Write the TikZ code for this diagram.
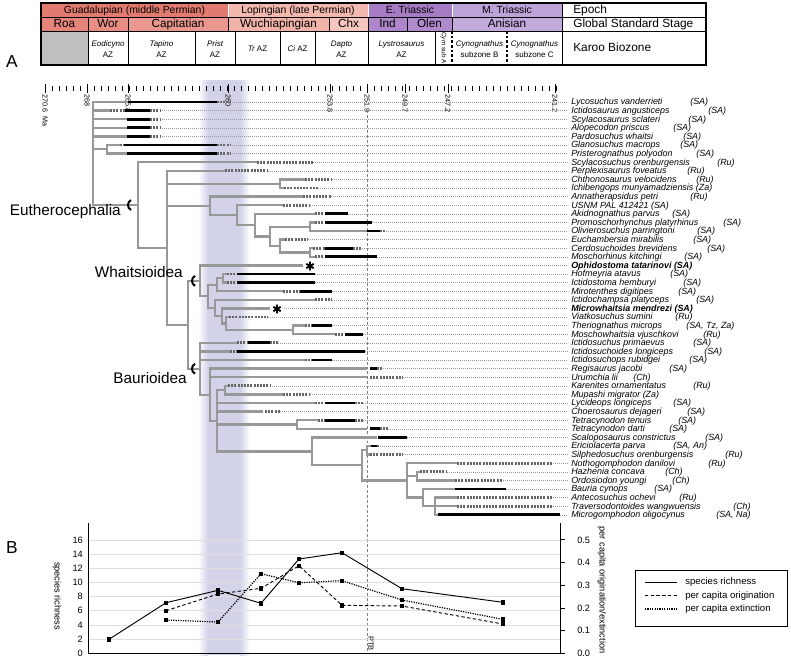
\documentclass[tikz,border=0pt]{standalone}
\usepackage{fontspec}
\setmainfont{Liberation Sans}
\definecolor{guad}{RGB}{225,123,112}
\definecolor{roa}{RGB}{229,133,122}
\definecolor{wor}{RGB}{232,142,132}
\definecolor{capit}{RGB}{234,152,143}
\definecolor{loping}{RGB}{243,185,175}
\definecolor{wuchia}{RGB}{241,178,168}
\definecolor{chx}{RGB}{245,198,190}
\definecolor{etri}{RGB}{165,124,196}
\definecolor{ind}{RGB}{173,134,202}
\definecolor{olen}{RGB}{176,138,204}
\definecolor{mtri}{RGB}{188,163,216}
\definecolor{anis}{RGB}{194,171,220}
\definecolor{band}{RGB}{210,210,233}
\definecolor{tree}{RGB}{152,152,152}
\newcommand\RY[1]{102+8.6*(#1-1)}
\newcommand\Gs[3]{\draw[treeline] (#2,{\RY{#1}}) -- (#3,{\RY{#1}});}
\newcommand\Us[3]{\draw[unc] (#2,{\RY{#1}}) -- (#3,{\RY{#1}});}
\newcommand\Ks[3]{\draw[blk] (#2,{\RY{#1}}) -- (#3,{\RY{#1}});}
\newcommand\Ds[2]{\draw[dotl] (#2,{\RY{#1}}) -- (568,{\RY{#1}});}
\newcommand\Vn[3]{\draw[treeline,line cap=rect] (#1,#2) -- (#1,#3);}
\newcommand\Hn[3]{\draw[treeline] (#2,#1) -- (#3,#1);}
\newcommand\Tx[4]{\node[taxon] (tn#1) at (571,{\RY{#1}+2.8}) {#2};\node[taxon] (ta#1) at (#4,{\RY{#1}+2.8}) {#3};}
\newcommand\Tone[2]{\node[taxon] (tn#1) at (571,{\RY{#1}+2.8}) {#2};}
\newcommand\Ast[3]{\draw[line width=1.4pt] (#2,#3-4.3) -- (#2,#3+4.3) (#2-3.7,#3-2.15) -- (#2+3.7,#3+2.15) (#2-3.7,#3+2.15) -- (#2+3.7,#3-2.15);}
\newcommand\Paren[2]{\draw[line width=1.5pt] (#1+2,#2-5) .. controls (#1-2,#2-3) and (#1-2,#2+3) .. (#1+2,#2+5);}
\begin{document}
\begin{tikzpicture}[x=0.75pt,y=-0.75pt,
  treeline/.style={line width=1.7pt,draw=tree},
  blk/.style={line width=2.1pt,draw=black},
  unc/.style={line width=2pt,draw=black!60,dash pattern=on 1.5pt off 0.9pt},
  dotl/.style={line width=0.45pt,draw=black!40,dash pattern=on 0.6pt off 0.9pt},
  hdra/.style={font=\fontsize{7.8}{9}\selectfont,anchor=base,inner sep=0},
  hdrb/.style={font=\fontsize{8.8}{10}\selectfont,anchor=base,inner sep=0},
  bz/.style={font=\fontsize{6}{7}\selectfont,anchor=base,inner sep=0},
  lbl/.style={font=\fontsize{8.9}{10}\selectfont,anchor=base west,inner sep=0},
  ticklab/.style={font=\fontsize{5.4}{6}\selectfont,rotate=-90,anchor=west,inner sep=0},
  taxon/.style={font=\fontsize{6.7}{7}\selectfont\itshape,anchor=base west,inner sep=0},
  clade/.style={font=\fontsize{11.5}{12}\selectfont,anchor=east,inner sep=0},
  axl/.style={font=\fontsize{6.9}{8}\selectfont,inner sep=0},
  panel/.style={font=\fontsize{13}{14}\selectfont,inner sep=0}]
\useasboundingbox (0,0) rectangle (791,658);

% ---- Lavender band
\shade[left color=white,right color=band] (198,80) rectangle (208,655);
\fill[band] (208,80) rectangle (240,655);
\shade[left color=band,right color=white] (240,80) rectangle (250,655);

% ---- Header fills
\fill[guad] (41,3) rectangle (228,17);
\fill[loping] (228,3) rectangle (368,17);
\fill[etri] (368,3) rectangle (452,17);
\fill[mtri] (452,3) rectangle (562,17);
\fill[roa] (41,17) rectangle (88,31);
\fill[wor] (88,17) rectangle (128,31);
\fill[capit] (128,17) rectangle (228,31);
\fill[wuchia] (228,17) rectangle (329,31);
\fill[chx] (329,17) rectangle (368,31);
\fill[ind] (368,17) rectangle (407,31);
\fill[olen] (407,17) rectangle (452,31);
\fill[anis] (452,17) rectangle (562,31);
\fill[black!25] (41,31) rectangle (88,65);
% header lines
\draw[white,line width=0.6pt] (228,3) -- (228,17) (368,3) -- (368,17) (452,3) -- (452,17);
\draw[black,line width=0.6pt] (88,17) -- (88,65) (128,17) -- (128,65) (228,17) -- (228,31)
  (329,17) -- (329,31) (368,17) -- (368,65) (407,17) -- (407,31) (452,17) -- (452,31)
  (195,31) -- (195,65) (235,31) -- (235,65) (280,31) -- (280,65) (315,31) -- (315,65)
  (435,31) -- (435,65);
\draw[black,line width=1pt,dash pattern=on 2pt off 1.5pt] (452,31) -- (452,65) (507,31) -- (507,65);
\draw[black,line width=0.7pt] (41,17) -- (706,17) (41,31) -- (706,31) (562,3) -- (562,65);
\draw[black,line width=0.9pt] (41,3) rectangle (706,65);

% header text
\node[hdra] (ep1) at (134.5,13.5) {Guadalupian (middle Permian)};
\node[hdra] (ep2) at (298,13.5) {Lopingian (late Permian)};
\node[hdra] (ep3) at (410,13.5) {E. Triassic};
\node[hdra] (ep4) at (507,13.5) {M. Triassic};
\node[lbl] (epl) at (573,13.5) {Epoch};
\node[hdrb] (st1) at (64.5,27.5) {Roa};
\node[hdrb] (st2) at (108,27.5) {Wor};
\node[hdrb] (st3) at (178,27.5) {Capitatian};
\node[hdrb] (st4) at (278.5,27.5) {Wuchiapingian};
\node[hdrb] (st5) at (348.5,27.5) {Chx};
\node[hdrb] (st6) at (387.5,27.5) {Ind};
\node[hdrb] (st7) at (429.5,27.5) {Olen};
\node[hdrb] (st8) at (507,27.5) {Anisian};
\node[lbl] (stl) at (573,27.5) {Global Standard Stage};
\node[bz] (bz1a) at (108,46) {\itshape Eodicyno};
\node[bz] (bz1b) at (108,57) {AZ};
\node[bz] (bz2a) at (161.5,46) {\itshape Tapino};
\node[bz] (bz2b) at (161.5,57) {AZ};
\node[bz] (bz3a) at (215,46) {\itshape Prist};
\node[bz] (bz3b) at (215,57) {AZ};
\node[bz] (bz4) at (257.5,51) {\itshape Tr\upshape\ AZ};
\node[bz] (bz5) at (297.5,51) {\itshape Ci\upshape\ AZ};
\node[bz] (bz6a) at (341.5,46) {\itshape Dapto};
\node[bz] (bz6b) at (341.5,57) {AZ};
\node[bz] (bz7a) at (401.5,46) {\itshape Lystrosaurus};
\node[bz] (bz7b) at (401.5,57) {AZ};
\node[font=\fontsize{4.8}{5}\selectfont,rotate=-90,inner sep=0] (bz8) at (443.5,48) {\itshape Cym\upshape\ sub A};
\node[bz] (bz9a) at (479.5,46) {\itshape Cynognathus};
\node[bz] (bz9b) at (479.5,57) {subzone B};
\node[bz] (bz10a) at (534.5,46) {\itshape Cynognathus};
\node[bz] (bz10b) at (534.5,57) {subzone C};
\node[lbl] (bzl) at (573,51) {Karoo Biozone};

\node[panel] (pA) at (12,62) {A};
\node[panel] (pB) at (12,548) {B};

% ---- time ticks
\foreach \i in {0,...,73} \draw[line width=0.45pt] ({45+7*\i},86) -- ({45+7*\i},91);
\foreach \x in {45,87,128,228,330,367,405,448,555} \draw[line width=0.6pt] (\x,84) -- (\x,93);
\node[ticklab] (tk1) at (45,94) {270.6\hspace{3pt}Ma};
\foreach \x/\l [count=\c] in {87/268,128/265.8,228/260,330/253.8,367/251.9,405/249.7,448/247.2,555/241.2}
  \node[ticklab] (tkb\c) at (\x,94) {\l};

% ---- PTB line
\draw[black!50,line width=0.5pt,dash pattern=on 2.2pt off 1.5pt] (367,110) -- (367,653);

% ---- dotted leaders
\foreach \r/\x in {1/230,2/160,3/160,4/160,5/160,6/230,7/230,8/313,9/268,10/332,11/318,12/331,
  13/310,14/348,15/372,16/386,17/308,18/362,19/377,20/318,21/315,22/315,23/332,24/332,25/284,
  26/268,27/332,28/363,29/278,30/365,31/332,32/383,33/403,34/270,35/310,36/363,37/280,38/363,
  39/388,40/407,41/380,42/403,43/553,44/447,45/503,46/506,47/553,48/553,49/560}
  {\Ds{\r}{\x}}

% ---- tree
\Vn{93}{102}{205}
\Gs{1}{93}{128}\Ks{1}{128}{217}\Us{1}{217}{230}
\Gs{2}{93}{110}\Us{2}{110}{125}\Ks{2}{125}{150}\Us{2}{150}{160}
\Gs{3}{93}{127}\Ks{3}{127}{150}\Us{3}{150}{160}
\Gs{4}{93}{127}\Ks{4}{127}{150}\Us{4}{150}{160}
\Gs{5}{93}{127}\Ks{5}{127}{150}\Us{5}{150}{160}
\Hn{149.3}{93}{107}\Vn{107}{145}{153.6}
\Gs{6}{107}{120}\Us{6}{120}{124}\Ks{6}{124}{217}\Us{6}{217}{230}
\Gs{7}{107}{127}\Ks{7}{127}{217}\Us{7}{217}{230}
\Hn{205}{93}{138}\Vn{138}{162.2}{247.8}
\Gs{8}{138}{257}\Us{8}{257}{313}
\Hn{247.8}{138}{167}\Vn{167}{170.8}{324.8}
\Gs{9}{167}{225}\Us{9}{225}{268}
\Hn{183.7}{167}{280}\Vn{280}{179.4}{188}
\Gs{10}{280}{305}\Us{10}{305}{332}
\Gs{11}{280}{284}\Us{11}{284}{318}
\Hn{205.9}{167}{210}\Vn{210}{196.6}{215.15}
\Gs{12}{210}{303}\Us{12}{303}{331}
\Hn{215.15}{210}{237}\Vn{237}{205.2}{225.1}
\Gs{13}{237}{283}\Us{13}{283}{310}
\Hn{225.1}{237}{255}\Vn{255}{213.8}{236.4}
\Gs{14}{255}{315}\Us{14}{315}{325}\Ks{14}{325}{348}
\Hn{236.4}{255}{270}\Vn{270}{226.7}{246.05}
\Hn{226.7}{270}{310}\Vn{310}{222.4}{231}
\Gs{15}{310}{315}\Us{15}{315}{325}\Ks{15}{325}{372}
\Gs{16}{310}{367}\Ks{16}{367}{380}\Us{16}{380}{386}
\Hn{246.05}{270}{280}\Vn{280}{239.6}{252.5}
\Gs{17}{280}{285}\Us{17}{285}{308}
\Hn{252.5}{280}{310}\Vn{310}{248.2}{256.8}
\Gs{18}{310}{313}\Us{18}{313}{325}\Ks{18}{325}{353}\Us{18}{353}{362}
\Gs{19}{310}{315}\Us{19}{315}{325}\Ks{19}{325}{377}
\Hn{324.8}{167}{188}\Vn{188}{280.85}{368.75}
\Hn{280.85}{188}{200}\Vn{200}{265.4}{296.3}
\Gs{20}{200}{303}
\Hn{296.3}{200}{208}\Vn{208}{284.75}{307.85}
\Hn{284.75}{208}{217}\Vn{217}{278.3}{291.2}
\Hn{278.3}{217}{223}\Vn{223}{274}{282.6}
\Gs{21}{223}{227}\Us{21}{227}{237}\Ks{21}{237}{315}
\Gs{22}{223}{227}\Us{22}{227}{237}\Ks{22}{237}{315}
\Gs{23}{217}{283}\Us{23}{283}{300}\Ks{23}{300}{332}
\Hn{307.85}{208}{215}\Vn{215}{299.8}{315.9}
\Gs{24}{215}{315}\Us{24}{315}{332}
\Hn{315.9}{215}{222}\Vn{222}{308.4}{323.45}
\Gs{25}{222}{270}
\Hn{323.45}{222}{226}\Vn{226}{317}{329.9}
\Gs{26}{226}{229}\Us{26}{229}{268}
\Hn{329.9}{226}{293}\Vn{293}{325.6}{334.2}
\Gs{27}{293}{305}\Us{27}{305}{312}\Ks{27}{312}{332}
\Gs{28}{293}{335}\Us{28}{335}{345}\Ks{28}{345}{363}
\Hn{368.75}{188}{200}\Vn{200}{342.8}{394.7}
\Gs{29}{200}{237}\Us{29}{237}{248}\Ks{29}{248}{270}\Us{29}{270}{278}
\Gs{30}{200}{230}\Us{30}{230}{237}\Ks{30}{237}{365}
\Gs{31}{200}{305}\Us{31}{305}{312}\Ks{31}{312}{332}
\Hn{394.7}{200}{210}\Vn{210}{368.6}{420.75}
\Gs{32}{210}{367}\Ks{32}{370}{377}\Us{32}{377}{383}
\Gs{33}{210}{367}\Us{33}{370}{403}
\Hn{420.75}{210}{217}\Vn{217}{390.1}{451.4}
\Hn{390.1}{217}{225}\Vn{225}{385.8}{394.4}
\Gs{34}{225}{228}\Us{34}{228}{270}
\Gs{35}{225}{283}\Us{35}{283}{310}
\Gs{36}{217}{315}\Us{36}{315}{325}\Ks{36}{325}{355}\Us{36}{355}{363}
\Gs{37}{217}{263}\Us{37}{265}{280}
\Hn{424.5}{217}{297}\Vn{297}{420.2}{428.8}
\Gs{38}{297}{318}\Us{38}{318}{325}\Ks{38}{325}{355}\Us{38}{355}{363}
\Gs{39}{297}{367}\Ks{39}{370}{380}\Us{39}{380}{388}
\Hn{451.4}{217}{312}\Vn{312}{437.4}{465.35}
\Gs{40}{312}{377}\Ks{40}{378}{407}
\Hn{465.35}{312}{362}\Vn{362}{450.3}{480.4}
\Hn{450.3}{362}{367}\Vn{367}{446}{454.6}
\Gs{41}{367}{371}\Ks{41}{371}{377}\Us{41}{377}{380}
\Gs{42}{367}{370}\Us{42}{370}{403}
\Hn{480.4}{362}{407}\Vn{407}{463.2}{497.6}
\Gs{43}{407}{457}\Us{43}{457}{553}
\Hn{476.1}{407}{417}\Vn{417}{471.8}{480.4}
\Gs{44}{417}{420}\Us{44}{420}{447}
\Gs{45}{417}{455}\Us{45}{455}{503}
\Hn{497.6}{407}{423}\Vn{423}{489}{506.2}
\Gs{46}{423}{455}\Ks{46}{455}{506}
\Hn{506.2}{423}{435}\Vn{435}{497.6}{514.8}
\Gs{47}{435}{457}\Us{47}{457}{553}
\Gs{48}{435}{457}\Us{48}{457}{553}
\Gs{49}{435}{438}\Ks{49}{438}{560}

% asterisks and clade brackets
\Ast{a}{310}{266}
\Ast{b}{277}{309}
\Paren{129}{205}
\Paren{193}{280.85}
\Paren{193}{368.75}
\node[clade] (cE) at (121,212) {Eutherocephalia};
\node[clade] (cW) at (183,272) {Whaitsioidea};
\node[clade] (cB) at (187,378) {Baurioidea};

% ---- taxon names
\Tx{1}{Lycosuchus vanderrieti}{(SA)}{690}
\Tx{2}{Ictidosaurus angusticeps}{(SA)}{708}
\Tx{3}{Scylacosaurus sclateri}{(SA)}{688}
\Tx{4}{Alopecodon priscus}{(SA)}{673}
\Tx{5}{Pardosuchus whaitsi}{(SA)}{683}
\Tx{6}{Glanosuchus macrops}{(SA)}{680}
\Tx{7}{Pristerognathus polyodon}{(SA)}{696}
\Tx{8}{Scylacosuchus orenburgensis}{(Ru)}{717}
\Tx{9}{Perplexisaurus foveatus}{(Ru)}{687}
\Tx{10}{Chthonosaurus velocidens}{(Ru)}{696}
\Tone{11}{Ichibengops munyamadziensis (Za)}
\Tx{12}{Annatherapsidus petri}{(Ru)}{690}
\Tone{13}{USNM PAL 412421 (SA)}
\Tx{14}{Akidnognathus parvus}{(SA)}{672}
\Tx{15}{Promoschorhynchus platyrhinus}{(SA)}{723}
\Tx{16}{Olivierosuchus parringtoni}{(SA)}{697}
\Tx{17}{Euchambersia mirabilis}{(SA)}{693}
\Tx{18}{Cerdosuchoides brevidens}{(SA)}{707}
\Tx{19}{Moschorhinus kitchingi}{(SA)}{684}
\Tone{20}{\bfseries Ophidostoma tatarinovi (SA)}
\Tx{21}{Hofmeyria atavus}{(SA)}{670}
\Tx{22}{Ictidostoma hemburyi}{(SA)}{683}
\Tx{23}{Mirotenthes digitipes}{(SA)}{678}
\Tx{24}{Ictidochampsa platyceps}{(SA)}{696}
\Tone{25}{\bfseries Microwhaitsia mendrezi (SA)}
\Tx{26}{Viatkosuchus sumini}{(Ru)}{675}
\Tx{27}{Theriognathus microps}{(SA, Tz, Za)}{686}
\Tx{28}{Moschowhaitsia vjuschkovi}{(Ru)}{703}
\Tx{29}{Ictidosuchus primaevus}{(SA)}{693}
\Tx{30}{Ictidosuchoides longiceps}{(SA)}{704}
\Tx{31}{Ictidosuchops rubidgei}{(SA)}{689}
\Tx{32}{Regisaurus jacobi}{(SA)}{669}
\Tx{33}{Urumchia lii}{(Ch)}{633}
\Tx{34}{Karenites ornamentatus}{(Ru)}{693}
\Tone{35}{Mupashi migrator (Za)}
\Tx{36}{Lycideops longiceps}{(SA)}{673}
\Tx{37}{Choerosaurus dejageri}{(SA)}{687}
\Tx{38}{Tetracynodon tenuis}{(SA)}{678}
\Tx{39}{Tetracynodon darti}{(SA)}{669}
\Tx{40}{Scaloposaurus constrictus}{(SA)}{705}
\Tx{41}{Ericiolacerta parva}{(SA, An)}{673}
\Tx{42}{Silphedosuchus orenburgensis}{(Ru)}{725}
\Tx{43}{Nothogomphodon danilovi}{(Ru)}{708}
\Tx{44}{Hazhenia concava}{(Ch)}{665}
\Tx{45}{Ordosiodon youngi}{(Ch)}{672}
\Tx{46}{Bauria cynops}{(SA)}{654}
\Tx{47}{Antecosuchus ochevi}{(Ru)}{679}
\Tx{48}{Traversodontoides wangwuensis}{(Ch)}{733}
\Tx{49}{Microgomphodon oligocynus}{(SA, Na)}{716}

% ---- chart B
\foreach \v in {2,4,...,16} \draw[black!13,line width=0.5pt] (88.3,{653.3-7.09*\v}) -- (560.7,{653.3-7.09*\v});
\draw[black,line width=0.7pt] (88.3,523) -- (88.3,653.3) -- (560.7,653.3) -- (560.7,523);
\foreach \v [count=\c] in {0,2,...,16} \node[axl,anchor=east] (yl\c) at (83,{653.3-7.09*\v}) {\v};
\foreach \v/\l [count=\c] in {0/0.0,1/0.1,2/0.2,3/0.3,4/0.4,5/0.5} {
  \draw[line width=0.6pt] (560.7,{653.3-22.69*\v}) -- (565,{653.3-22.69*\v});
  \node[axl,anchor=west] (yr\c) at (577,{653.3-22.69*\v}) {\l};}
\node[axl,rotate=-90] (ylab) at (57,596) {species richness};
\node[axl,rotate=-90] (yrlab) at (602,590) {per capita origination/extinction};
\node[font=\fontsize{5.6}{6}\selectfont,rotate=-90,anchor=west,inner sep=0] (ptb) at (371,636) {PTB};

\draw[line width=0.7pt] (109,639.3) -- (166,602.7) -- (218,590.3) -- (261,603.3) -- (299,559) -- (342,552.7) -- (402,588.7) -- (503,602.3);
\draw[line width=0.7pt,dash pattern=on 2.5pt off 1.8pt] (166,610.7) -- (218,594) -- (261,588.3) -- (299,565.7) -- (342,605.3) -- (402,606) -- (503,624);
\draw[line width=0.9pt,dash pattern=on 0.9pt off 0.9pt] (166,620) -- (218,622) -- (261,573.7) -- (299,582.7) -- (342,580.7) -- (402,600) -- (503,619.3);
\foreach \x/\y in {109/639.3,166/602.7,218/590.3,261/603.3,299/559,342/552.7,402/588.7,503/602.3,
  166/610.7,218/594,261/588.3,299/565.7,342/605.3,402/606,503/624,
  166/620,218/622,261/573.7,299/582.7,342/580.7,402/600,503/619.3}
  \fill (\x-2.2,\y-2.2) rectangle (\x+2.2,\y+2.2);

% legend
\draw[line width=0.7pt] (635,570) rectangle (787,626);
\draw[line width=0.7pt] (645,582.3) -- (677,582.3);
\draw[line width=0.7pt,dash pattern=on 2.5pt off 1.8pt] (645,595.7) -- (677,595.7);
\draw[line width=0.9pt,dash pattern=on 0.9pt off 0.9pt] (645,609) -- (677,609);
\node[font=\fontsize{7.2}{8}\selectfont,anchor=west,inner sep=0] (lg1) at (685,582.3) {species richness};
\node[font=\fontsize{7.2}{8}\selectfont,anchor=west,inner sep=0] (lg2) at (685,595.7) {per capita origination};
\node[font=\fontsize{7.2}{8}\selectfont,anchor=west,inner sep=0] (lg3) at (685,609) {per capita extinction};
\end{tikzpicture}
\end{document}
